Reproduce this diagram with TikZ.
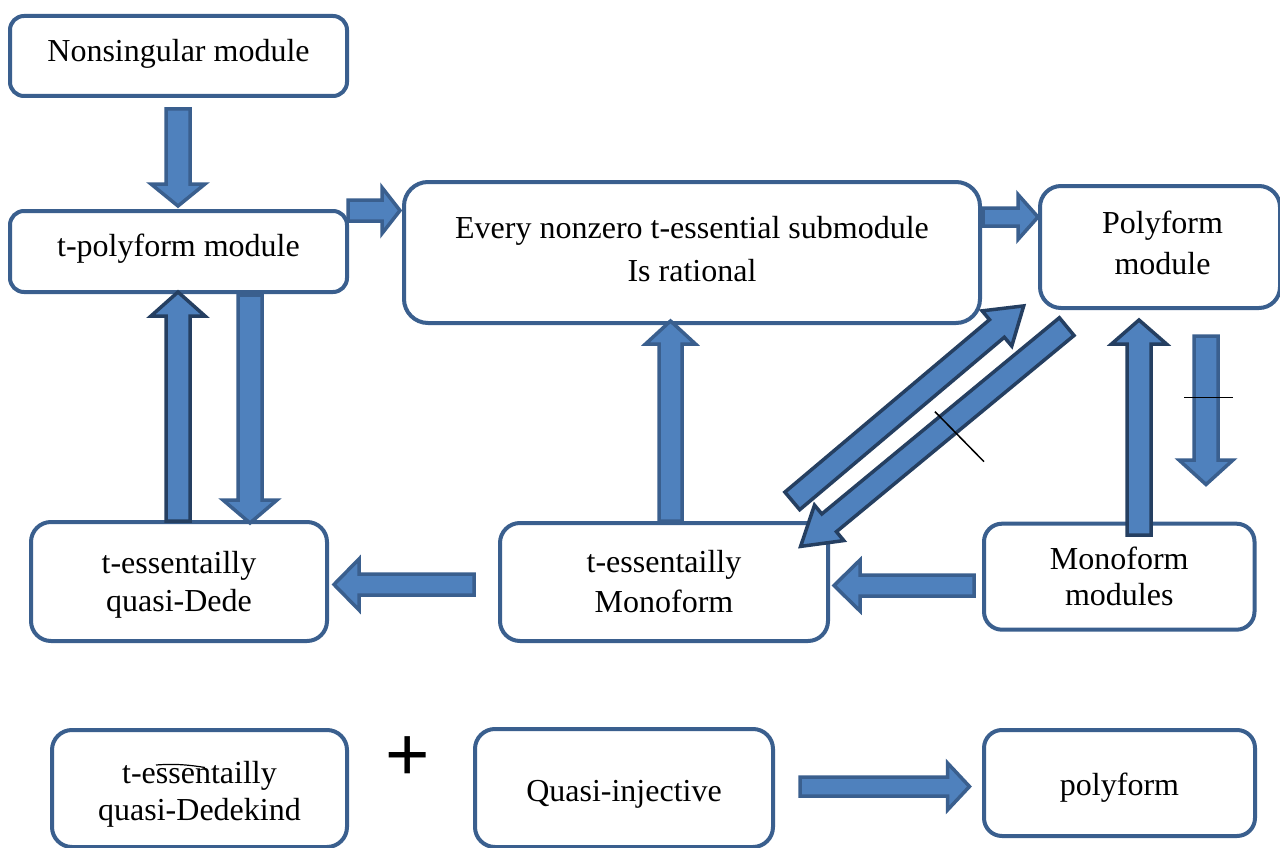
\documentclass[tikz,border=0pt]{standalone}
\usepackage{fontspec}
\setmainfont{Liberation Serif}
\newfontfamily\plusfont{Liberation Sans}
\usetikzlibrary{calc}
\definecolor{boxline}{HTML}{3A5F8E}
\definecolor{arrfill}{HTML}{4F81BD}
\definecolor{arrdark}{HTML}{253F61}
\tikzset{
  mbox/.style={draw=boxline, line width=4pt, fill=white, rectangle, inner sep=0pt, align=center, text=black},
  barrow/.style={draw=boxline, fill=arrfill, line width=3.5pt, line join=miter},
  barrowdk/.style={draw=arrdark, fill=arrfill, line width=3.5pt, line join=miter},
  tickline/.style={draw=black, line width=1.5pt},
}
\newcommand\fsz[1]{\fontsize{32}{#1}\selectfont}
% block arrow: [style]{from}{to}{shaft half width}{head half width}{head length}
\newcommand\blockarrow[6][barrow]{%
  \coordinate (bah) at ($(#3)!#6!(#2)$);
  \draw[#1] ($(#2)!#4!90:(#3)$) -- ($(bah)!#4!90:(#3)$) -- ($(bah)!#5!90:(#3)$) -- (#3)
     -- ($(bah)!#5!-90:(#3)$) -- ($(bah)!#4!-90:(#3)$) -- ($(#2)!#4!-90:(#3)$) -- cycle;
}
\begin{document}
\begin{tikzpicture}[x=1pt,y=-1pt]
\useasboundingbox[fill=white] (0,0) rectangle (1280,848);

% boxes
\node[mbox, minimum width=337pt, minimum height=80pt, rounded corners=14pt, font=\fsz{38}] (nons) at (178.5,56) {Nonsingular module\rule[-12pt]{0pt}{12pt}};
\node[mbox, minimum width=337pt, minimum height=81pt, rounded corners=14pt, font=\fsz{38}] (tpoly) at (178.5,251.5) {t-polyform module\rule[-13pt]{0pt}{13pt}};
\node[mbox, minimum width=576pt, minimum height=141pt, rounded corners=24pt, font=\fsz{43}] (every) at (692,252.5) {Every nonzero t-essential submodule\\Is rational\rule[-7pt]{0pt}{7pt}};
\node[mbox, minimum width=240pt, minimum height=122pt, rounded corners=21pt, font=\fsz{41}] (poly) at (1160,247) {\hspace*{5pt}Polyform\\\hspace*{5pt}module\rule[-9pt]{0pt}{9pt}};
\node[mbox, minimum width=296pt, minimum height=119pt, rounded corners=20pt, font=\fsz{38}] (qdede) at (179,581.5) {\rule{0pt}{28pt}t-essentailly\\quasi-Dede};
\node[mbox, minimum width=328pt, minimum height=118pt, rounded corners=20pt, font=\fsz{40}] (tmono) at (664,582) {t-essentailly\\Monoform};
\node[mbox, minimum width=270.5pt, minimum height=106pt, rounded corners=18pt, font=\fsz{36}] (mono) at (1119.25,576.7) {Monoform\\modules};
\node[mbox, minimum width=295pt, minimum height=117pt, rounded corners=20pt, font=\fsz{37}] (qded) at (199.5,788.5) {\rule{0pt}{33pt}t-essentailly\\quasi-Dedekind};
\node[mbox, minimum width=298pt, minimum height=118pt, rounded corners=20pt, font=\fsz{38}] (qinj) at (624,788) {\rule{0pt}{33pt}Quasi-injective};
\node[mbox, minimum width=271pt, minimum height=106pt, rounded corners=18pt, font=\fsz{38}] (pf) at (1119.5,783) {\rule{0pt}{31pt}polyform};

% plus sign
\node[font=\plusfont\fontsize{76}{76}\selectfont, inner sep=0pt] (plus) at (408,759) {+};

% arrow end points
\coordinate (a1s) at (178,109);   \coordinate (a1e) at (178,206);
\coordinate (a2s) at (178,521);   \coordinate (a2e) at (178,292);
\coordinate (a3s) at (250,295);   \coordinate (a3e) at (250,523);
\coordinate (a4s) at (348,210.5); \coordinate (a4e) at (400,210.5);
\coordinate (a5s) at (983,217);   \coordinate (a5e) at (1038,217);
\coordinate (a6s) at (670.5,521); \coordinate (a6e) at (670.5,321);
\coordinate (a7s) at (1139,535);  \coordinate (a7e) at (1139,320);
\coordinate (a8s) at (1206,336);  \coordinate (a8e) at (1206,484.5);
\coordinate (a9s) at (474,584.5); \coordinate (a9e) at (334,584.5);
\coordinate (a10s) at (974,585.5); \coordinate (a10e) at (834,585.5);
\coordinate (a11s) at (792.3,500.9); \coordinate (a11e) at (1023.7,305.9);
\coordinate (a12s) at (1066.7,326.6); \coordinate (a12e) at (800.6,546.4);
\coordinate (a13s) at (800,786.5); \coordinate (a13e) at (969.5,786.5);

\blockarrow{a1s}{a1e}{12pt}{27pt}{22pt}
\blockarrow[barrowdk]{a2s}{a2e}{12pt}{27pt}{24pt}
\blockarrow{a3s}{a3e}{12pt}{27pt}{23pt}
\blockarrow{a4s}{a4e}{10.5pt}{23pt}{18pt}
\blockarrow{a5s}{a5e}{9pt}{22.5pt}{20pt}
\blockarrow{a6s}{a6e}{11.5pt}{25pt}{23pt}
\blockarrow[barrowdk]{a7s}{a7e}{12pt}{27.5pt}{24pt}
\blockarrow{a8s}{a8e}{12pt}{27pt}{24.5pt}
\blockarrow{a9s}{a9e}{10.5pt}{25.5pt}{25pt}
\blockarrow{a10s}{a10e}{10.5pt}{25.5pt}{26pt}
\blockarrow[barrowdk]{a11s}{a11e}{11.5pt}{23pt}{35pt}
\blockarrow[barrowdk]{a12s}{a12e}{11.5pt}{23pt}{37pt}
\blockarrow{a13s}{a13e}{9.5pt}{23.5pt}{22pt}

% negation ticks and stray stroke
\draw[tickline] (1184,397.7) -- (1233,397.7);
\draw[tickline] (935,411.7) -- (984,461.7);
\draw[tickline, line width=1.2pt] (156,765) .. controls (175,763.5) and (190,765) .. (205,767.5);
\end{tikzpicture}
\end{document}
